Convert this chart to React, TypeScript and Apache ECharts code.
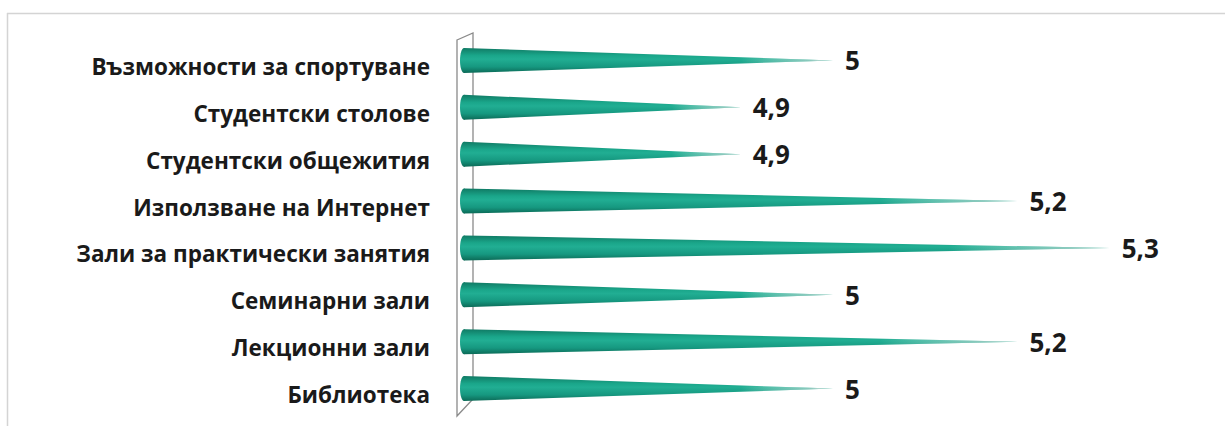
import React, { useEffect, useRef } from "react";
import * as echarts from "echarts";

const categories = [
  "Възможности за спортуване",
  "Студентски столове",
  "Студентски общежития",
  "Използване на Интернет",
  "Зали за практически занятия",
  "Семинарни зали",
  "Лекционни зали",
  "Библиотека",
];
const values = [5, 4.9, 4.9, 5.2, 5.3, 5, 5.2, 5];
const axisMin = 4.6;
const axisMax = 5.4;

const FONT = "'Open Sans', 'Noto Sans', sans-serif";

export default function App() {
  const ref = useRef<HTMLDivElement>(null);
  useEffect(() => {
    const chart = echarts.init(ref.current!, null, { renderer: "svg" });
    chart.setOption({
      animation: false,
      backgroundColor: "#ffffff",
      grid: { left: 464, right: 23, top: 37, bottom: 14 },
      xAxis: { type: "value", min: axisMin, max: axisMax, show: false },
      yAxis: {
        type: "category",
        data: categories,
        inverse: true,
        axisLine: { show: false },
        axisTick: { show: false },
        splitLine: { show: false },
        axisLabel: {
          margin: 34,
          fontFamily: FONT,
          fontWeight: "bold",
          fontSize: 22.5,
          color: "#1a1a1a",
          verticalAlign: "top",
          lineHeight: 12,
        },
      },
      graphic: [
        {
          type: "line",
          z: 0,
          shape: { x1: 7, y1: 13.5, x2: 1225, y2: 13.5 },
          style: { stroke: "#d4d4d4", lineWidth: 1.5 },
        },
        {
          type: "line",
          z: 0,
          shape: { x1: 7.5, y1: 13, x2: 7.5, y2: 426 },
          style: { stroke: "#d4d4d4", lineWidth: 1.5 },
        },
        {
          type: "polygon",
          z: 1,
          shape: { points: [[457, 40], [473, 33], [473, 399], [457, 416]] },
          style: { stroke: "#8a8a8a", lineWidth: 1.3, fill: "rgba(255,255,255,0)" },
        },
      ],
      series: [
        {
          type: "custom",
          z: 5,
          data: values.map((v, i) => [v, i]),
          encode: { x: 0, y: 1 },
          renderItem: (params: any, api: any) => {
            const v = api.value(0);
            const idx = api.value(1);
            const tip = api.coord([v, idx]);
            const base = api.coord([axisMin, idx]);
            const h = 25;
            const cy = tip[1];
            const pts = [
              [base[0], cy - h / 2],
              [tip[0], cy],
              [base[0], cy + h / 2],
            ];
            const vert = new echarts.graphic.LinearGradient(0, 0, 0, 1, [
              { offset: 0, color: "#107a64" },
              { offset: 0.3, color: "#1aa68a" },
              { offset: 0.45, color: "#21ae93" },
              { offset: 0.75, color: "#169880" },
              { offset: 1, color: "#0c6a57" },
            ]);
            const fade = new echarts.graphic.LinearGradient(0, 0, 1, 0, [
              { offset: 0, color: "rgba(255,255,255,0)" },
              { offset: 0.75, color: "rgba(255,255,255,0)" },
              { offset: 0.94, color: "rgba(215,222,220,0.6)" },
              { offset: 1, color: "rgba(240,240,240,1)" },
            ]);
            return {
              type: "group",
              children: [
                { type: "polygon", shape: { points: pts }, style: { fill: vert } },
                { type: "polygon", shape: { points: pts }, style: { fill: fade } },
                {
                  type: "ellipse",
                  shape: { cx: base[0], cy, rx: 4, ry: h / 2 },
                  style: { fill: vert },
                },
                {
                  type: "text",
                  x: tip[0] + 12,
                  y: cy,
                  style: {
                    text: String(v).replace(".", ","),
                    fontFamily: FONT,
                    fontWeight: "bold",
                    fontSize: 26,
                    fill: "#1a1a1a",
                    align: "left",
                    verticalAlign: "middle",
                  },
                },
              ],
            };
          },
        },
      ],
    });
    return () => chart.dispose();
  }, []);
  return (
    <div
      ref={ref}
      style={{ position: "absolute", left: 0, top: 0, width: 1225, height: 426 }}
    />
  );
}
